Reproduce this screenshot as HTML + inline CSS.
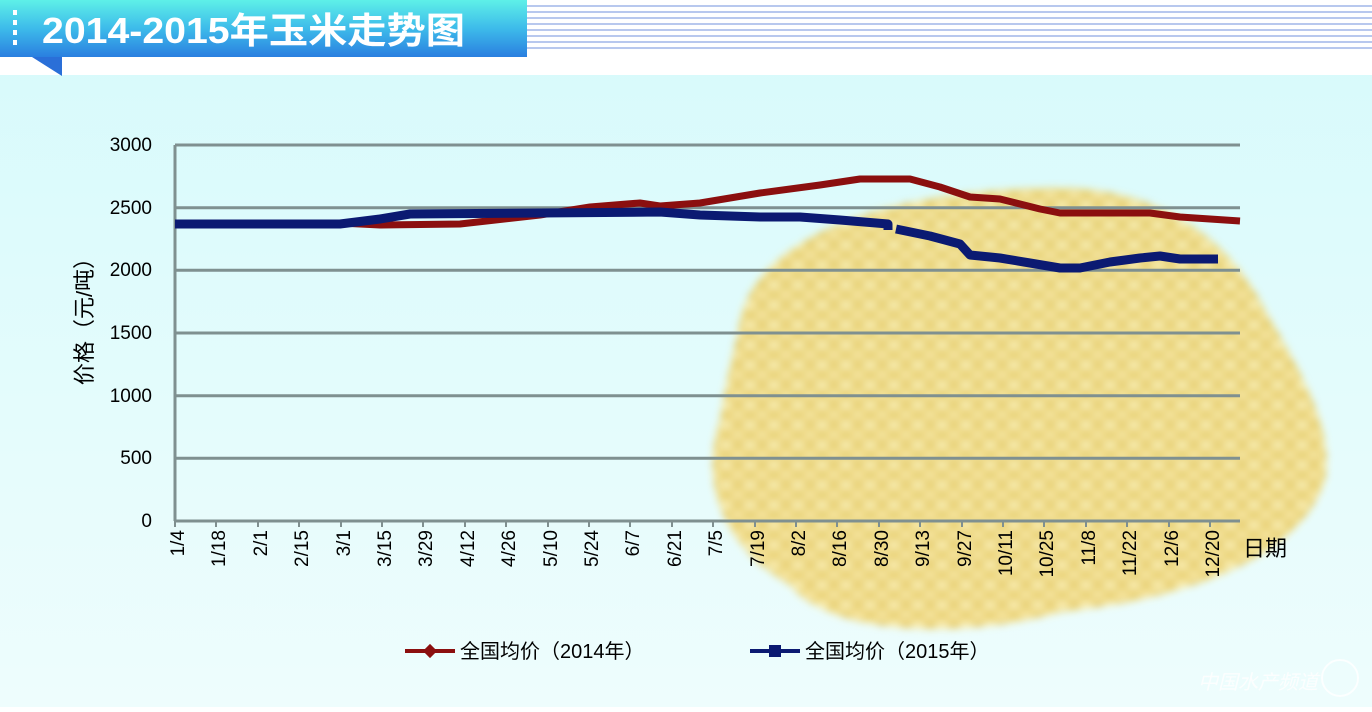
<!DOCTYPE html>
<html><head><meta charset="utf-8"><style>
body{margin:0;width:1372px;height:707px;overflow:hidden;background:#fff;font-family:"Liberation Sans","Noto Sans CJK SC",sans-serif}
</style></head><body>
<svg width="1372" height="707" xmlns="http://www.w3.org/2000/svg" font-family="Liberation Sans, Noto Sans CJK SC, sans-serif">
<defs>
<linearGradient id="bg" x1="0" y1="0" x2="0" y2="1"><stop offset="0" stop-color="#d6fafb"/><stop offset="1" stop-color="#eefdfd"/></linearGradient>
<linearGradient id="tab" x1="0" y1="0" x2="0" y2="1"><stop offset="0" stop-color="#5ef0e8"/><stop offset="0.5" stop-color="#3dbbea"/><stop offset="1" stop-color="#2a7fe0"/></linearGradient>
<pattern id="kern" width="24" height="20" patternUnits="userSpaceOnUse"><rect width="24" height="20" fill="#efd36a"/><ellipse cx="6" cy="5" rx="6" ry="4.5" fill="#fbeaa4"/><ellipse cx="18" cy="15" rx="6" ry="4.5" fill="#f8e090"/><ellipse cx="18" cy="4" rx="3" ry="2" fill="#d8b040"/><ellipse cx="6" cy="15" rx="3" ry="2" fill="#e0b848"/></pattern>
<filter id="soft"><feGaussianBlur stdDeviation="4"/></filter>
</defs>
<rect width="1372" height="707" fill="url(#bg)"/>
<rect x="0" y="0" width="1372" height="75" fill="#fff"/>
<g stroke="#b8c8ee" stroke-width="2">
<line x1="527" y1="6" x2="1372" y2="6"/><line x1="527" y1="12" x2="1372" y2="12"/><line x1="527" y1="18" x2="1372" y2="18"/><line x1="527" y1="24" x2="1372" y2="24"/><line x1="527" y1="30" x2="1372" y2="30"/><line x1="527" y1="36" x2="1372" y2="36"/><line x1="527" y1="42" x2="1372" y2="42"/><line x1="527" y1="48" x2="1372" y2="48"/></g>
<rect x="0" y="0" width="527" height="57" fill="url(#tab)"/>
<polygon points="32,57 62,57 62,76" fill="#2a6fd8"/>
<g fill="#fff"><rect x="13" y="10" width="4" height="5"/><rect x="13" y="20" width="4" height="5"/><rect x="13" y="30" width="4" height="5"/><rect x="13" y="40" width="4" height="5"/></g>
<text x="42" y="43" font-size="36" font-weight="bold" fill="#fff" textLength="423" lengthAdjust="spacingAndGlyphs">2014-2015年玉米走势图</text>
<path d="M740,320 C760,230 900,190 1050,188 C1180,185 1240,260 1265,310 C1300,370 1335,430 1325,480 C1300,560 1180,600 1060,612 C960,640 830,635 790,585 C720,545 700,480 720,420 C725,380 735,350 740,320 Z" fill="url(#kern)" filter="url(#soft)" opacity="0.85"/>
<g stroke="#7f9090" stroke-width="3">
<line x1="175" y1="145" x2="1240" y2="145"/><line x1="175" y1="207.7" x2="1240" y2="207.7"/><line x1="175" y1="270.3" x2="1240" y2="270.3"/><line x1="175" y1="333" x2="1240" y2="333"/><line x1="175" y1="395.7" x2="1240" y2="395.7"/><line x1="175" y1="458.3" x2="1240" y2="458.3"/><line x1="175" y1="521" x2="1240" y2="521"/><line x1="175" y1="145" x2="175" y2="521"/>
</g>
<g font-size="19" fill="#000" text-anchor="end">
<text x="152" y="151">3000</text><text x="152" y="214">2500</text><text x="152" y="276">2000</text><text x="152" y="339">1500</text><text x="152" y="402">1000</text><text x="152" y="464">500</text><text x="152" y="527">0</text></g>
<g font-size="19" fill="#000" text-anchor="end">
<text transform="translate(184,530) rotate(-90)">1/4</text>
<text transform="translate(225,530) rotate(-90)">1/18</text>
<text transform="translate(267,530) rotate(-90)">2/1</text>
<text transform="translate(308,530) rotate(-90)">2/15</text>
<text transform="translate(350,530) rotate(-90)">3/1</text>
<text transform="translate(391,530) rotate(-90)">3/15</text>
<text transform="translate(432,530) rotate(-90)">3/29</text>
<text transform="translate(474,530) rotate(-90)">4/12</text>
<text transform="translate(515,530) rotate(-90)">4/26</text>
<text transform="translate(557,530) rotate(-90)">5/10</text>
<text transform="translate(598,530) rotate(-90)">5/24</text>
<text transform="translate(639,530) rotate(-90)">6/7</text>
<text transform="translate(681,530) rotate(-90)">6/21</text>
<text transform="translate(722,530) rotate(-90)">7/5</text>
<text transform="translate(764,530) rotate(-90)">7/19</text>
<text transform="translate(805,530) rotate(-90)">8/2</text>
<text transform="translate(846,530) rotate(-90)">8/16</text>
<text transform="translate(888,530) rotate(-90)">8/30</text>
<text transform="translate(929,530) rotate(-90)">9/13</text>
<text transform="translate(971,530) rotate(-90)">9/27</text>
<text transform="translate(1012,530) rotate(-90)">10/11</text>
<text transform="translate(1053,530) rotate(-90)">10/25</text>
<text transform="translate(1095,530) rotate(-90)">11/8</text>
<text transform="translate(1136,530) rotate(-90)">11/22</text>
<text transform="translate(1178,530) rotate(-90)">12/6</text>
<text transform="translate(1219,530) rotate(-90)">12/20</text>
</g>
<g stroke="#7f9090" stroke-width="2">
<line x1="175" y1="521" x2="175" y2="527"/><line x1="216" y1="521" x2="216" y2="527"/><line x1="258" y1="521" x2="258" y2="527"/><line x1="299" y1="521" x2="299" y2="527"/><line x1="341" y1="521" x2="341" y2="527"/><line x1="382" y1="521" x2="382" y2="527"/><line x1="423" y1="521" x2="423" y2="527"/><line x1="465" y1="521" x2="465" y2="527"/><line x1="506" y1="521" x2="506" y2="527"/><line x1="548" y1="521" x2="548" y2="527"/><line x1="589" y1="521" x2="589" y2="527"/><line x1="630" y1="521" x2="630" y2="527"/><line x1="672" y1="521" x2="672" y2="527"/><line x1="713" y1="521" x2="713" y2="527"/><line x1="755" y1="521" x2="755" y2="527"/><line x1="796" y1="521" x2="796" y2="527"/><line x1="837" y1="521" x2="837" y2="527"/><line x1="879" y1="521" x2="879" y2="527"/><line x1="920" y1="521" x2="920" y2="527"/><line x1="962" y1="521" x2="962" y2="527"/><line x1="1003" y1="521" x2="1003" y2="527"/><line x1="1044" y1="521" x2="1044" y2="527"/><line x1="1086" y1="521" x2="1086" y2="527"/><line x1="1127" y1="521" x2="1127" y2="527"/><line x1="1169" y1="521" x2="1169" y2="527"/><line x1="1210" y1="521" x2="1210" y2="527"/></g>
<polyline fill="none" stroke="#8b0f0f" stroke-width="7" stroke-linejoin="round" points="175,223 340,223 380,225 460,224 540,215 590,207 640,203 660,206 700,203 760,193 820,185 860,179 910,179 940,187 970,197 1000,199 1040,209 1060,213 1150,213 1180,217 1240,221"/>
<polyline fill="none" stroke="#0b1a72" stroke-width="9" stroke-linejoin="round" points="175,224 340,224 380,219 410,214 540,213 660,212 700,215 760,217 800,217 840,220 888,224 888,230"/>
<polyline fill="none" stroke="#0b1a72" stroke-width="9" stroke-linejoin="round" points="896,229 930,236 960,244 970,255 1000,258 1030,263 1060,268 1080,268 1110,262 1140,258 1160,256 1180,259 1218,259"/>
<text transform="translate(92,316) rotate(-90)" font-size="22" text-anchor="middle" fill="#000">价格（元/吨）</text>
<text x="1243" y="556" font-size="22" fill="#000">日期</text>
<line x1="405" y1="651" x2="455" y2="651" stroke="#8b0f0f" stroke-width="4"/>
<rect x="425" y="646" width="10" height="10" fill="#8b0f0f" transform="rotate(45 430 651)"/>
<text x="460" y="658" font-size="20" fill="#000">全国均价（2014年）</text>
<line x1="750" y1="651" x2="800" y2="651" stroke="#0b1a72" stroke-width="4"/>
<rect x="769" y="645" width="12" height="12" fill="#0b1a72"/>
<text x="805" y="658" font-size="20" fill="#000">全国均价（2015年）</text>
<text x="1198" y="689" font-size="20" font-style="italic" fill="#fff" opacity="0.85">中国水产频道</text>
<circle cx="1340" cy="678" r="18" fill="none" stroke="#fff" stroke-width="2" opacity="0.8"/>
</svg>
</body></html>
